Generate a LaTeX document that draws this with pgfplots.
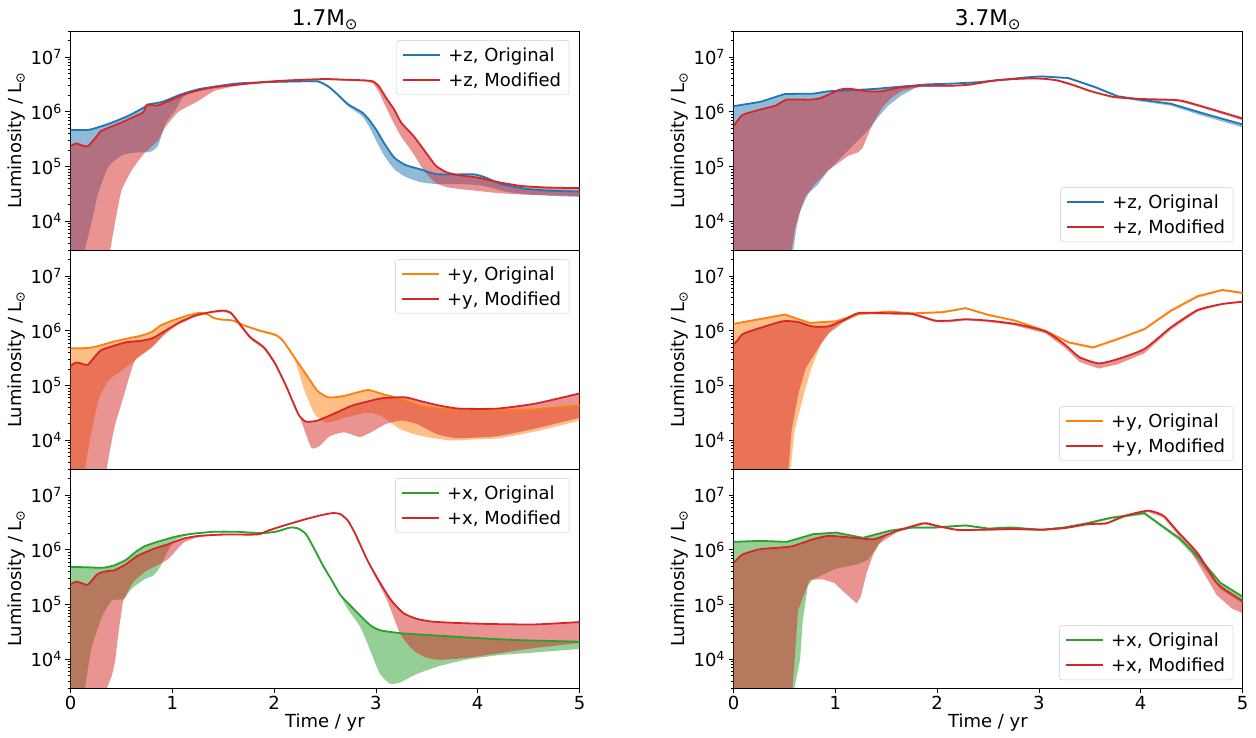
\documentclass[border=0pt]{standalone}
\usepackage{fontspec}
\setmainfont{DejaVu Sans}
\usepackage{pgfplots}
\pgfplotsset{compat=1.18}
\usepgfplotslibrary{fillbetween}
\definecolor{tabblue}{HTML}{1F77B4}
\definecolor{taborange}{HTML}{FF7F0E}
\definecolor{tabgreen}{HTML}{2CA02C}
\definecolor{tabred}{HTML}{D62728}
\newcommand{\fs}{\fontsize{18}{21}\selectfont}
\pgfplotsset{
  scale only axis, width=509pt, height=219pt,
  xmin=0, xmax=5, ymin=3e3, ymax=3e7,
  ytick={1e4,1e5,1e6,1e7},
  yticklabels={10\textsuperscript{4},10\textsuperscript{5},10\textsuperscript{6},10\textsuperscript{7}},
  minor ytick={3e3,4e3,5e3,6e3,7e3,8e3,9e3,2e4,3e4,4e4,5e4,6e4,7e4,8e4,9e4,2e5,3e5,4e5,5e5,6e5,7e5,8e5,9e5,2e6,3e6,4e6,5e6,6e6,7e6,8e6,9e6,2e7,3e7},
  xtick={0,1,2,3,4,5},
  xticklabels={0,1,2,3,4,5},
  tick align=outside, tick pos=left,
  major tick length=5pt, minor tick length=3pt,
  tick style={line width=0.8pt, black},
  axis line style={line width=0.8pt},
  tick label style={font=\fs},
  ylabel={Luminosity / L\textsubscript{⊙}},
  every axis y label/.style={at={(axis description cs:-0.0953,0.5)}, rotate=90, anchor=base, font=\fs},
  every axis x label/.style={at={(axis description cs:0.5,-0.1826)}, anchor=base, font=\fs},
  every axis title/.style={at={(axis description cs:0.5,1.0228)}, anchor=base, font=\fontsize{21.6}{24}\selectfont},
  legend style={font=\fs, draw=black!20, rounded corners=3pt, fill=white, inner xsep=6pt, inner ysep=5pt, row sep=6pt, column sep=5pt},
  legend cell align=left,
  legend image code/.code={\draw[#1] (0pt,0pt) -- (37pt,0pt);},
}
\begin{document}
\begin{tikzpicture}

% ---------------- top left: +z, 1.7
\begin{semilogyaxis}[xmajorticks=false, legend style={at={(0.98,0.958)}, anchor=north east}, at={(70.5pt,488pt)}, title={1.7M\textsubscript{⊙}}]
\addlegendimage{tabblue, line width=1.8pt}\addlegendentry{+z, Original}
\addlegendimage{tabred, line width=1.8pt}\addlegendentry{+z, Modified}
\addplot[name path=A, tabblue, line width=1.8pt, smooth, tension=0.35, forget plot] coordinates {(0,4.7e5) (0.18,4.7e5) (0.37,6.0e5) (0.57,8.5e5) (0.72,1.2e6) (0.77,1.37e6) (0.9,1.52e6) (1.09,2.1e6) (1.26,2.6e6) (1.42,2.9e6) (1.64,3.3e6) (1.94,3.5e6) (2.24,3.6e6) (2.43,3.6e6) (2.54,2.85e6) (2.65,1.87e6) (2.73,1.36e6) (2.86,9.9e5) (2.93,7.3e5) (3.01,4.5e5) (3.08,2.7e5) (3.18,1.46e5) (3.29,1.07e5) (3.44,8.9e4) (3.59,7.3e4) (3.78,7.2e4) (3.97,7.2e4) (4.08,6.3e4) (4.23,4.8e4) (4.49,3.9e4) (4.76,3.6e4) (5,3.5e4)};
\addplot[name path=B, draw=none, smooth, tension=0.35, forget plot] coordinates {(0,1e3) (0.12,1e3) (0.14,2.9e3) (0.21,1.0e4) (0.27,3.2e4) (0.37,9.8e4) (0.50,1.6e5) (0.63,1.8e5) (0.78,1.85e5) (0.86,2.4e5) (0.93,6.0e5) (1.03,1.07e6) (1.11,1.9e6) (1.26,2.45e6) (1.42,2.8e6) (1.64,3.2e6) (1.94,3.4e6) (2.24,3.5e6) (2.43,3.45e6) (2.54,2.7e6) (2.65,1.75e6) (2.73,1.25e6) (2.86,8.5e5) (2.93,5.5e5) (3.01,2.8e5) (3.08,1.6e5) (3.18,9e4) (3.29,6.5e4) (3.44,5.2e4) (3.59,4.8e4) (3.82,4.8e4) (4.0,4.6e4) (4.12,4.2e4) (4.27,3.5e4) (4.49,3.1e4) (4.76,2.9e4) (5,2.8e4)};
\addplot[tabblue, fill opacity=0.5, draw=none, forget plot] fill between[of=A and B];
\addplot[name path=C, tabred, line width=1.8pt, smooth, tension=0.35, forget plot] coordinates {(0,2.38e5) (0.058,2.65e5) (0.115,2.44e5) (0.171,2.35e5) (0.246,3.37e5) (0.30,4.45e5) (0.396,5.33e5) (0.51,6.5e5) (0.622,8.1e5) (0.716,9.9e5) (0.753,1.36e6) (0.847,1.30e6) (0.96,1.56e6) (1.11,2.07e6) (1.26,2.48e6) (1.41,2.81e6) (1.64,3.14e6) (1.94,3.56e6) (2.16,3.77e6) (2.50,3.98e6) (2.69,3.87e6) (2.88,3.77e6) (2.97,3.61e6) (3.03,2.93e6) (3.10,1.80e6) (3.18,1.10e6) (3.25,6.3e5) (3.37,3.61e5) (3.48,1.93e5) (3.59,1.03e5) (3.70,7.8e4) (3.82,6.95e4) (4.0,6.3e4) (4.19,5.26e4) (4.42,4.45e4) (4.68,4.15e4) (5,4.04e4)};
\addplot[name path=D, draw=none, smooth, tension=0.35, forget plot] coordinates {(0,1e3) (0.37,1e3) (0.39,2.9e3) (0.44,1.0e4) (0.50,3.6e4) (0.60,8.5e4) (0.73,1.8e5) (0.86,3.0e5) (0.93,5.2e5) (1.06,1.0e6) (1.26,1.6e6) (1.41,2.4e6) (1.64,3.0e6) (1.94,3.4e6) (2.16,3.6e6) (2.50,3.8e6) (2.69,3.7e6) (2.88,3.6e6) (2.97,3.3e6) (3.03,2.3e6) (3.10,1.2e6) (3.18,6.0e5) (3.25,3.5e5) (3.37,1.7e5) (3.48,8.0e4) (3.59,5.0e4) (3.70,4.2e4) (3.82,3.9e4) (4.0,3.6e4) (4.19,3.3e4) (4.42,3.1e4) (4.68,3.0e4) (5,2.9e4)};
\addplot[tabred, fill opacity=0.5, draw=none, forget plot] fill between[of=C and D];
\end{semilogyaxis}

% ---------------- middle left: +y, 1.7
\begin{semilogyaxis}[xmajorticks=false, legend style={at={(0.98,0.958)}, anchor=north east}, at={(70.5pt,269pt)}]
\addlegendimage{taborange, line width=1.8pt}\addlegendentry{+y, Original}
\addlegendimage{tabred, line width=1.8pt}\addlegendentry{+y, Modified}
\addplot[name path=A, taborange, line width=1.8pt, smooth, tension=0.35, forget plot] coordinates {(0,4.8e5) (0.171,4.87e5) (0.284,5.36e5) (0.434,6.44e5) (0.584,7.4e5) (0.697,8.2e5) (0.791,9.4e5) (0.885,1.25e6) (0.998,1.54e6) (1.148,1.90e6) (1.261,2.13e6) (1.336,2.04e6) (1.411,1.72e6) (1.486,1.61e6) (1.599,1.54e6) (1.711,1.25e6) (1.862,1.01e6) (2.012,8.5e5) (2.087,6.6e5) (2.2,3.28e5) (2.313,1.62e5) (2.426,8.0e4) (2.538,6.07e4) (2.689,6.5e4) (2.839,7.7e4) (2.933,8.3e4) (3.065,7.0e4) (3.253,5.65e4) (3.441,4.27e4) (3.629,3.81e4) (3.817,3.7e4) (4.193,3.55e4) (4.569,3.7e4) (5,4.39e4)};
\addplot[name path=B, draw=none, smooth, tension=0.35, forget plot] coordinates {(0,1e3) (0.13,1e3) (0.143,3e3) (0.208,1.5e4) (0.274,5.4e4) (0.37,1.23e5) (0.50,1.86e5) (0.634,2.9e5) (0.765,4.4e5) (0.897,7.8e5) (1.03,1.17e6) (1.15,1.75e6) (1.26,2.0e6) (1.34,1.95e6) (1.41,1.65e6) (1.49,1.55e6) (1.6,1.48e6) (1.71,1.2e6) (1.86,9.6e5) (2.01,8.0e5) (2.09,6.2e5) (2.2,3.0e5) (2.30,8e4) (2.40,3e4) (2.52,2.1e4) (2.7,2.6e4) (2.91,3.2e4) (3.05,2.8e4) (3.24,1.6e4) (3.45,1.2e4) (3.73,1.0e4) (4.0,1.05e4) (4.22,1.1e4) (4.6,1.5e4) (5,2.3e4)};
\addplot[taborange, fill opacity=0.5, draw=none, forget plot] fill between[of=A and B];
\addplot[name path=C, tabred, line width=1.8pt, smooth, tension=0.35, forget plot] coordinates {(0,2.3e5) (0.058,2.65e5) (0.115,2.5e5) (0.171,2.4e5) (0.246,3.5e5) (0.303,4.47e5) (0.434,5.4e5) (0.547,6.2e5) (0.697,6.6e5) (0.81,7.4e5) (0.922,9.8e5) (1.073,1.44e6) (1.223,1.9e6) (1.373,2.2e6) (1.505,2.35e6) (1.58,2.1e6) (1.674,1.25e6) (1.768,7.6e5) (1.90,5.0e5) (2.012,2.5e5) (2.125,9.2e4) (2.238,3.0e4) (2.313,2.2e4) (2.426,2.3e4) (2.576,3.0e4) (2.764,4.3e4) (2.914,5.1e4) (3.065,5.9e4) (3.29,6.1e4) (3.44,5.2e4) (3.63,4.3e4) (3.82,3.8e4) (4.19,3.8e4) (4.57,4.7e4) (5,7.2e4)};
\addplot[name path=D, draw=none, smooth, tension=0.35, forget plot] coordinates {(0,1e3) (0.34,1e3) (0.356,3e3) (0.405,9.8e3) (0.44,2.0e4) (0.52,6.2e4) (0.634,2.9e5) (0.80,5.0e5) (0.93,8.9e5) (1.03,1.26e6) (1.1,1.4e6) (1.223,1.8e6) (1.373,2.1e6) (1.505,2.2e6) (1.58,1.95e6) (1.674,1.15e6) (1.768,7.0e5) (1.90,4.6e5) (2.012,2.3e5) (2.125,8.5e4) (2.22,4.0e4) (2.30,1.5e4) (2.37,7.2e3) (2.45,8e3) (2.55,1.2e4) (2.69,1.4e4) (2.84,1.15e4) (2.95,1.4e4) (3.1,2.0e4) (3.25,2.3e4) (3.4,2.0e4) (3.6,1.3e4) (3.8,1.1e4) (4.2,1.2e4) (4.6,1.7e4) (5,2.6e4)};
\addplot[tabred, fill opacity=0.5, draw=none, forget plot] fill between[of=C and D];
\end{semilogyaxis}

% ---------------- bottom left: +x, 1.7
\begin{semilogyaxis}[legend style={at={(0.98,0.958)}, anchor=north east}, at={(70.5pt,50pt)}, xlabel={Time / yr}]
\addlegendimage{tabgreen, line width=1.8pt}\addlegendentry{+x, Original}
\addlegendimage{tabred, line width=1.8pt}\addlegendentry{+x, Modified}
\addplot[name path=A, tabgreen, line width=1.8pt, smooth, tension=0.35, forget plot] coordinates {(0,4.9e5) (0.17,4.8e5) (0.321,4.7e5) (0.434,5.25e5) (0.547,6.6e5) (0.641,9.2e5) (0.735,1.18e6) (0.885,1.46e6) (1.035,1.75e6) (1.186,1.96e6) (1.411,2.14e6) (1.637,2.14e6) (1.862,2.02e6) (2.012,2.14e6) (2.163,2.57e6) (2.238,2.45e6) (2.313,1.94e6) (2.388,1.1e6) (2.482,5.1e5) (2.576,2.6e5) (2.651,1.5e5) (2.764,9e4) (2.85,6.2e4) (2.945,4.2e4) (3.04,3.4e4) (3.25,3.0e4) (3.63,2.7e4) (4.0,2.45e4) (4.38,2.25e4) (5,2.1e4)};
\addplot[name path=B, draw=none, smooth, tension=0.35, forget plot] coordinates {(0,1e3) (0.13,1e3) (0.143,3.0e3) (0.208,1.65e4) (0.307,5.8e4) (0.405,1.18e5) (0.52,1.26e5) (0.60,1.95e5) (0.733,2.95e5) (0.814,3.4e5) (0.88,4.9e5) (0.962,1.0e6) (1.028,1.5e6) (1.09,1.7e6) (1.186,1.9e6) (1.411,2.08e6) (1.637,2.08e6) (1.862,1.96e6) (2.012,2.08e6) (2.163,2.5e6) (2.238,2.35e6) (2.313,1.85e6) (2.388,1.05e6) (2.482,4.8e5) (2.6,2.2e5) (2.72,8.5e4) (2.85,3.8e4) (2.945,1.45e4) (3.04,5.4e3) (3.14,3.6e3) (3.24,3.8e3) (3.40,5.4e3) (3.63,7.6e3) (3.90,1.0e4) (4.22,1.2e4) (4.55,1.33e4) (5,1.55e4)};
\addplot[tabgreen, fill opacity=0.5, draw=none, forget plot] fill between[of=A and B];
\addplot[name path=C, tabred, line width=1.8pt, smooth, tension=0.35, forget plot] coordinates {(0,2.35e5) (0.058,2.63e5) (0.115,2.45e5) (0.171,2.3e5) (0.265,3.6e5) (0.359,4.1e5) (0.434,4.25e5) (0.547,5.5e5) (0.66,7.8e5) (0.81,1.03e6) (0.96,1.27e6) (1.11,1.61e6) (1.26,1.8e6) (1.486,1.9e6) (1.787,1.9e6) (1.862,1.95e6) (1.937,2.23e6) (2.087,2.75e6) (2.313,3.65e6) (2.463,4.3e6) (2.576,4.7e6) (2.651,4.5e6) (2.726,3.4e6) (2.801,1.9e6) (2.914,6.6e5) (3.03,2.7e5) (3.15,1.2e5) (3.27,7.0e4) (3.4,5.5e4) (3.55,4.9e4) (3.82,4.6e4) (4.19,4.4e4) (4.57,4.35e4) (5,4.8e4)};
\addplot[name path=D, draw=none, smooth, tension=0.35, forget plot] coordinates {(0,1e3) (0.34,1e3) (0.356,2.8e3) (0.405,5e3) (0.438,9.3e3) (0.47,2.9e4) (0.503,7.8e4) (0.52,1.2e5) (0.60,2.3e5) (0.634,2.8e5) (0.733,4.0e5) (0.83,5.0e5) (0.96,6.8e5) (1.11,1.35e6) (1.26,1.7e6) (1.486,1.85e6) (1.787,1.85e6) (1.862,1.9e6) (1.937,2.15e6) (2.087,2.65e6) (2.313,3.55e6) (2.463,4.2e6) (2.576,4.6e6) (2.651,4.4e6) (2.726,3.3e6) (2.80,1.8e6) (2.945,4.8e5) (3.11,1.2e5) (3.24,2.9e4) (3.37,1.45e4) (3.50,1.07e4) (3.63,9.8e3) (3.90,1.07e4) (4.22,1.3e4) (4.55,1.6e4) (5,2.0e4)};
\addplot[tabred, fill opacity=0.5, draw=none, forget plot] fill between[of=C and D];
\end{semilogyaxis}

% ---------------- top right: +z, 3.7
\begin{semilogyaxis}[xmajorticks=false, legend style={at={(0.982,0.036)}, anchor=south east}, at={(733.5pt,488pt)}, title={3.7M\textsubscript{⊙}}]
\addlegendimage{tabblue, line width=1.8pt}\addlegendentry{+z, Original}
\addlegendimage{tabred, line width=1.8pt}\addlegendentry{+z, Modified}
\addplot[name path=A, tabblue, line width=1.8pt, forget plot] coordinates {(0,1.27e6) (0.262,1.52e6) (0.504,2.12e6) (0.785,2.15e6) (0.934,2.38e6) (1.158,2.48e6) (1.383,2.62e6) (1.607,2.85e6) (1.906,3.18e6) (2.13,3.27e6) (2.392,3.47e6) (2.653,3.87e6) (2.877,4.27e6) (3.027,4.45e6) (3.289,4.15e6) (3.55,2.85e6) (3.774,1.93e6) (3.999,1.67e6) (4.297,1.41e6) (4.596,9.6e5) (5,5.9e5)};
\addplot[name path=B, draw=none, forget plot] coordinates {(0,1e3) (0.57,1e3) (0.588,3.1e3) (0.62,7.8e3) (0.654,1.55e4) (0.735,3.2e4) (0.833,4.8e4) (0.93,8.5e4) (1.06,1.48e5) (1.19,2.6e5) (1.32,4.6e5) (1.42,8.0e5) (1.52,1.3e6) (1.65,2.0e6) (1.78,2.7e6) (1.906,3.1e6) (2.13,3.2e6) (2.392,3.4e6) (2.653,3.8e6) (2.877,4.2e6) (3.027,4.35e6) (3.289,4.0e6) (3.55,2.7e6) (3.774,1.85e6) (3.999,1.55e6) (4.297,1.3e6) (4.596,8.6e5) (5,5.2e5)};
\addplot[tabblue, fill opacity=0.5, draw=none, forget plot] fill between[of=A and B];
\addplot[name path=C, tabred, line width=1.8pt, smooth, tension=0.35, forget plot] coordinates {(0,5.5e5) (0.037,6.8e5) (0.093,8.9e5) (0.262,1.1e6) (0.411,1.3e6) (0.523,1.67e6) (0.747,1.67e6) (0.86,1.8e6) (1.046,2.55e6) (1.158,2.62e6) (1.308,2.38e6) (1.457,2.38e6) (1.607,2.73e6) (1.831,3.0e6) (2.13,3.0e6) (2.317,3.14e6) (2.578,3.77e6) (2.84,4.04e6) (3.027,4.04e6) (3.176,3.77e6) (3.326,3.14e6) (3.513,2.38e6) (3.737,1.87e6) (3.999,1.72e6) (4.372,1.63e6) (4.596,1.27e6) (5,7.6e5)};
\addplot[name path=D, draw=none, forget plot] coordinates {(0,1e3) (0.555,1e3) (0.572,3.1e3) (0.605,7.8e3) (0.70,2.75e4) (0.80,4.8e4) (0.93,8.5e4) (1.127,1.58e5) (1.225,1.82e5) (1.27,2.24e5) (1.34,4.6e5) (1.405,8.0e5) (1.46,1.2e6) (1.55,1.8e6) (1.65,2.4e6) (1.831,2.9e6) (2.13,2.9e6) (2.317,3.05e6) (2.578,3.65e6) (2.84,3.95e6) (3.027,3.95e6) (3.176,3.65e6) (3.326,3.0e6) (3.513,2.3e6) (3.737,1.8e6) (3.999,1.65e6) (4.372,1.55e6) (4.596,1.2e6) (5,7.0e5)};
\addplot[tabred, fill opacity=0.5, draw=none, forget plot] fill between[of=C and D];
\end{semilogyaxis}

% ---------------- middle right: +y, 3.7
\begin{semilogyaxis}[xmajorticks=false, legend style={at={(0.982,0.036)}, anchor=south east}, at={(733.5pt,269pt)}]
\addlegendimage{taborange, line width=1.8pt}\addlegendentry{+y, Original}
\addlegendimage{tabred, line width=1.8pt}\addlegendentry{+y, Modified}
\addplot[name path=A, taborange, line width=1.8pt, forget plot] coordinates {(0,1.34e6) (0.504,1.99e6) (0.747,1.4e6) (1.009,1.5e6) (1.233,2.04e6) (1.532,2.25e6) (1.756,2.09e6) (2.055,2.2e6) (2.28,2.6e6) (2.504,1.96e6) (2.765,1.54e6) (3.064,1.0e6) (3.289,6.2e5) (3.531,5.0e5) (3.774,7.1e5) (4.036,1.08e6) (4.297,2.35e6) (4.559,4.3e6) (4.802,5.6e6) (5,4.95e6)};
\addplot[name path=B, draw=none, forget plot] coordinates {(0,1e3) (0.54,1e3) (0.56,3e3) (0.60,1.5e4) (0.69,6.9e4) (0.766,2.1e5) (0.86,5.8e5) (0.97,1.1e6) (1.046,1.4e6) (1.233,1.95e6) (1.532,2.15e6) (1.756,2.0e6) (2.055,2.1e6) (2.28,2.5e6) (2.504,1.88e6) (2.765,1.48e6) (3.064,9.5e5) (3.289,5.9e5) (3.531,4.7e5) (3.774,6.7e5) (4.036,1.02e6) (4.297,2.2e6) (4.559,4.0e6) (4.802,5.3e6) (5,4.7e6)};
\addplot[taborange, fill opacity=0.5, draw=none, forget plot] fill between[of=A and B];
\addplot[name path=C, tabred, line width=1.8pt, smooth, tension=0.35, forget plot] coordinates {(0,5.7e5) (0.037,6.6e5) (0.093,8.8e5) (0.262,1.13e6) (0.486,1.5e6) (0.635,1.45e6) (0.766,1.21e6) (0.934,1.21e6) (1.084,1.58e6) (1.233,2.13e6) (1.532,2.09e6) (1.756,2.04e6) (1.981,1.54e6) (2.13,1.54e6) (2.28,1.63e6) (2.504,1.54e6) (2.765,1.34e6) (3.064,9.8e5) (3.251,5.7e5) (3.40,3.3e5) (3.587,2.55e5) (3.774,3.05e5) (4.036,4.66e5) (4.297,1.16e6) (4.559,2.4e6) (4.802,3.1e6) (5,3.4e6)};
\addplot[name path=D, draw=none, forget plot] coordinates {(0,1e3) (0.52,1e3) (0.54,3e3) (0.57,1.5e4) (0.635,6.9e4) (0.71,2.1e5) (0.86,5.8e5) (0.934,9e5) (1.0,1.1e6) (1.084,1.45e6) (1.233,2.0e6) (1.532,2.0e6) (1.756,1.95e6) (1.981,1.45e6) (2.13,1.45e6) (2.28,1.55e6) (2.504,1.46e6) (2.765,1.25e6) (3.064,9.0e5) (3.251,5.0e5) (3.40,2.7e5) (3.587,2.05e5) (3.774,2.45e5) (4.036,3.9e5) (4.297,1.05e6) (4.559,2.25e6) (4.802,3.0e6) (5,3.3e6)};
\addplot[tabred, fill opacity=0.5, draw=none, forget plot] fill between[of=C and D];
\end{semilogyaxis}

% ---------------- bottom right: +x, 3.7
\begin{semilogyaxis}[legend style={at={(0.982,0.036)}, anchor=south east}, at={(733.5pt,50pt)}, xlabel={Time / yr}]
\addlegendimage{tabgreen, line width=1.8pt}\addlegendentry{+x, Original}
\addlegendimage{tabred, line width=1.8pt}\addlegendentry{+x, Modified}
\addplot[name path=A, tabgreen, line width=1.8pt, forget plot] coordinates {(0,1.4e6) (0.262,1.46e6) (0.523,1.4e6) (0.785,1.94e6) (1.009,2.07e6) (1.271,1.66e6) (1.532,2.23e6) (1.756,2.57e6) (1.981,2.57e6) (2.28,2.8e6) (2.504,2.45e6) (2.728,2.57e6) (3.027,2.32e6) (3.251,2.57e6) (3.475,3.07e6) (3.7,3.85e6) (4.036,4.7e6) (4.185,2.95e6) (4.372,1.68e6) (4.559,7.8e5) (4.783,2.5e5) (5,1.4e5)};
\addplot[name path=B, draw=none, forget plot] coordinates {(0,1e3) (0.58,1e3) (0.598,3e3) (0.654,1e4) (0.68,5e4) (0.73,2.2e5) (0.78,2.9e5) (1.0,4.5e5) (1.23,5.5e5) (1.32,6.6e5) (1.42,1.2e6) (1.47,1.6e6) (1.532,2.1e6) (1.756,2.45e6) (1.981,2.45e6) (2.28,2.7e6) (2.504,2.35e6) (2.728,2.45e6) (3.027,2.2e6) (3.251,2.45e6) (3.475,2.9e6) (3.7,3.6e6) (4.036,4.4e6) (4.185,2.75e6) (4.372,1.5e6) (4.559,6.5e5) (4.783,1.9e5) (5,1.05e5)};
\addplot[tabgreen, fill opacity=0.5, draw=none, forget plot] fill between[of=A and B];
\addplot[name path=C, tabred, line width=1.8pt, smooth, tension=0.35, forget plot] coordinates {(0,5.7e5) (0.037,6.8e5) (0.093,8.3e5) (0.262,1.03e6) (0.56,1.15e6) (0.785,1.57e6) (0.934,1.8e6) (1.158,1.68e6) (1.383,1.57e6) (1.607,2.23e6) (1.868,3.07e6) (1.981,2.8e6) (2.205,2.32e6) (2.504,2.35e6) (2.728,2.4e6) (3.027,2.35e6) (3.251,2.5e6) (3.475,2.95e6) (3.662,3.07e6) (3.849,4.2e6) (4.073,5.2e6) (4.223,4.2e6) (4.372,2.07e6) (4.559,8.7e5) (4.746,2.5e5) (4.895,1.55e5) (5,1.17e5)};
\addplot[name path=D, draw=none, forget plot] coordinates {(0,1e3) (0.56,1e3) (0.58,3e3) (0.635,8e4) (0.75,2.85e5) (0.88,2.9e5) (0.99,2.5e5) (1.1,1.6e5) (1.21,1.05e5) (1.25,1.4e5) (1.31,3.9e5) (1.37,8e5) (1.43,1.3e6) (1.48,1.5e6) (1.607,2.1e6) (1.868,2.9e6) (1.981,2.65e6) (2.205,2.2e6) (2.504,2.25e6) (2.728,2.3e6) (3.027,2.25e6) (3.251,2.4e6) (3.475,2.8e6) (3.662,2.9e6) (3.849,4.0e6) (4.073,4.9e6) (4.223,3.9e6) (4.372,1.8e6) (4.5,9e5) (4.746,1.5e5) (4.895,8.5e4) (5,7e4)};
\addplot[tabred, fill opacity=0.5, draw=none, forget plot] fill between[of=C and D];
\end{semilogyaxis}
\path (0,0) rectangle (1256pt,738pt);
\end{tikzpicture}
\end{document}
